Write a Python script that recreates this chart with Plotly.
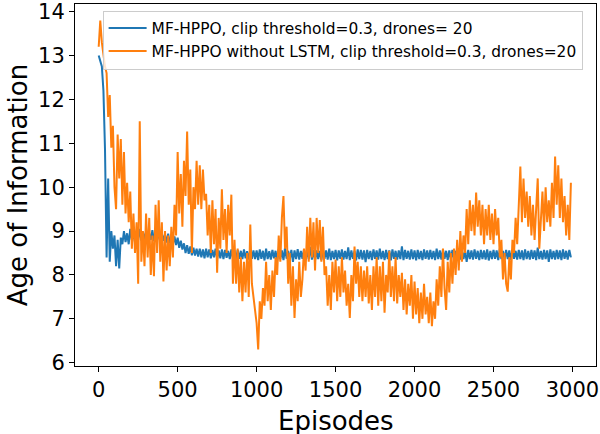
import plotly.graph_objects as go

# Episodes sampled every 10 episodes
episodes = list(range(0, 3000, 10))

# MF-HPPO (blue)
blue_aoi = [
    13.0, 12.85, 12.75, 12.2, 10.85, 8.4, 10.2, 8.3, 9.0, 8.6,
    8.9, 8.2, 8.8, 8.15, 8.85, 8.7, 9.0, 8.75, 8.95, 8.7,
    9.05, 8.8, 8.95, 8.75, 9.0, 8.8, 9.05, 8.78, 8.98, 8.8,
    9.0, 8.76, 8.95, 8.8, 9.02, 8.77, 8.96, 8.8, 8.97, 8.75,
    8.95, 8.78, 8.92, 8.74, 8.94, 8.72, 8.9, 8.7, 8.88, 8.68,
    8.85, 8.62, 8.78, 8.58, 8.72, 8.5, 8.68, 8.48, 8.65, 8.45,
    8.62, 8.44, 8.6, 8.42, 8.6, 8.4, 8.58, 8.38, 8.6, 8.4,
    8.58, 8.38, 8.57, 8.4, 8.6, 8.37, 8.56, 8.38, 8.58, 8.36,
    8.57, 8.39, 8.55, 8.36, 8.58, 8.38, 8.56, 8.35, 8.57, 8.37,
    8.55, 8.36, 8.58, 8.38, 8.54, 8.35, 8.57, 8.37, 8.56, 8.36,
    8.56, 8.34, 8.58, 8.37, 8.55, 8.33, 8.6, 8.36, 8.54, 8.35,
    8.57, 8.38, 8.55, 8.32, 8.58, 8.36, 8.56, 8.34, 8.62, 8.37,
    8.55, 8.35, 8.57, 8.3, 8.56, 8.36, 8.59, 8.35, 8.55, 8.37,
    8.58, 8.34, 8.56, 8.36, 8.64, 8.35, 8.57, 8.33, 8.56, 8.36,
    8.55, 8.34, 8.58, 8.37, 8.56, 8.35, 8.6, 8.34, 8.55, 8.36,
    8.57, 8.33, 8.56, 8.37, 8.58, 8.35, 8.55, 8.36, 8.63, 8.34,
    8.56, 8.37, 8.55, 8.33, 8.58, 8.36, 8.57, 8.35, 8.56, 8.29,
    8.57, 8.36, 8.55, 8.34, 8.58, 8.37, 8.56, 8.35, 8.6, 8.36,
    8.55, 8.34, 8.57, 8.36, 8.56, 8.33, 8.58, 8.37, 8.55, 8.35,
    8.56, 8.36, 8.65, 8.34, 8.57, 8.37, 8.55, 8.35, 8.58, 8.36,
    8.56, 8.33, 8.57, 8.36, 8.55, 8.34, 8.58, 8.37, 8.56, 8.35,
    8.57, 8.36, 8.55, 8.34, 8.6, 8.36, 8.56, 8.35, 8.58, 8.37,
    8.55, 8.34, 8.56, 8.36, 8.57, 8.33, 8.55, 8.37, 8.58, 8.35,
    8.56, 8.36, 8.55, 8.3, 8.57, 8.36, 8.56, 8.35, 8.58, 8.37,
    8.55, 8.34, 8.57, 8.36, 8.56, 8.35, 8.58, 8.33, 8.55, 8.36,
    8.57, 8.37, 8.56, 8.34, 8.6, 8.36, 8.55, 8.35, 8.57, 8.36,
    8.56, 8.34, 8.58, 8.37, 8.55, 8.35, 8.57, 8.36, 8.56, 8.34,
    8.58, 8.36, 8.55, 8.35, 8.57, 8.37, 8.56, 8.34, 8.62, 8.36,
    8.55, 8.35, 8.57, 8.36, 8.56, 8.3, 8.58, 8.36, 8.55, 8.35,
    8.57, 8.36, 8.56, 8.34, 8.58, 8.37, 8.55, 8.35, 8.57, 8.4,
]

# MF-HPPO without LSTM (orange)
orange_aoi = [
    13.2, 13.8, 13.3, 13.0, 12.75, 12.6, 11.6, 12.1, 10.9, 11.4,
    10.0, 9.5, 11.2, 10.2, 11.1, 9.6, 10.8, 9.4, 10.1, 9.2,
    9.9, 8.6, 9.4, 8.5, 9.2, 7.8, 11.5, 8.3, 9.0, 8.2,
    9.4, 8.4, 9.3, 8.0, 8.9, 7.97, 9.6, 8.5, 9.7, 8.3,
    9.2, 7.85, 9.0, 8.1, 8.9, 8.2, 9.1, 8.4, 9.6, 8.9,
    10.8, 9.4, 10.3, 9.1, 10.6, 9.8, 11.27, 9.6, 10.4, 8.5,
    10.0, 9.5, 10.6, 9.6, 10.5, 9.5, 10.4, 9.7, 9.85, 8.9,
    9.6, 8.5, 9.7, 8.7, 9.5, 8.05, 9.3, 8.6, 9.95, 8.8,
    9.5, 8.5, 9.6, 8.9, 9.83, 7.8, 8.8, 7.8, 8.6, 7.6,
    8.4, 7.4, 8.3, 7.6, 8.5, 7.5, 9.15, 7.8, 7.5, 7.2,
    6.9, 6.3, 7.4, 7.0, 7.7, 7.3, 8.3, 7.4, 8.0, 7.2,
    8.1, 7.5, 8.4, 8.0, 8.9, 8.3, 9.3, 9.8, 8.6, 9.1,
    7.8, 8.5, 7.3, 8.2, 7.02, 7.9, 7.4, 8.3, 7.5, 7.9,
    8.6, 8.1, 9.1, 8.3, 9.3, 8.4, 9.2, 8.1, 9.3, 8.5,
    9.25, 8.3, 9.1, 8.0, 8.2, 7.3, 8.0, 7.2, 8.3, 7.6,
    8.35, 7.4, 8.2, 7.5, 8.4, 7.6, 8.1, 7.3, 7.8, 7.02,
    8.0, 7.4, 8.65, 7.8, 8.3, 7.5, 8.2, 7.4, 8.1, 7.5,
    8.2, 7.35, 8.0, 7.2, 8.2, 7.5, 8.4, 7.3, 8.2, 7.4,
    8.3, 7.14, 8.0, 7.6, 8.55, 7.5, 8.2, 7.4, 8.4, 7.35,
    8.0, 7.5, 8.05, 7.2, 7.9, 7.1, 7.8, 7.3, 8.0, 7.0,
    7.85, 7.1, 7.7, 6.9, 7.6, 7.0, 7.8, 7.1, 7.5, 6.9,
    7.6, 6.83, 7.4, 7.0, 7.9, 7.3, 8.2, 7.5, 8.6, 7.7,
    7.2, 8.3, 7.6, 8.5, 7.8, 8.6, 8.0, 8.8, 8.1, 9.0,
    8.3, 8.9, 8.5, 9.5, 8.7, 9.7, 9.0, 9.6, 8.9, 9.88,
    9.1, 9.7, 8.9, 9.6, 8.7, 9.5, 8.9, 9.6, 8.8, 9.4,
    8.7, 9.5, 8.9, 9.3, 8.4, 8.8, 7.9, 8.5, 7.8, 7.62,
    8.4, 7.9, 8.8, 8.5, 9.3, 8.7, 9.5, 10.47, 9.2, 10.2,
    9.3, 9.9, 9.1, 9.8, 8.9, 9.6, 8.8, 9.5, 10.2, 8.6,
    9.4, 9.9, 9.0, 10.0, 9.2, 9.7, 9.1, 10.1, 9.3, 10.7,
    9.6, 10.5, 9.3, 10.2, 9.2, 9.8, 8.9, 9.6, 8.8, 10.1,
]

x_ticks = [0, 500, 1000, 1500, 2000, 2500, 3000]
y_ticks = [6, 7, 8, 9, 10, 11, 12, 13, 14]

series_names = [
    "MF-HPPO, clip threshold=0.3, drones= 20",
    "MF-HPPO without LSTM, clip threshold=0.3, drones=20",
]
x_title = "Episodes"
y_title = "Age of Information"

fig = go.Figure()
fig.add_trace(go.Scatter(x=episodes, y=blue_aoi, mode="lines", name=series_names[0],
                         line=dict(color="#1f77b4", width=2)))
fig.add_trace(go.Scatter(x=episodes, y=orange_aoi, mode="lines", name=series_names[1],
                         line=dict(color="#ff7f0e", width=2)))

font_family = "DejaVu Sans"
fig.update_layout(
    width=600, height=434,
    margin=dict(l=75, r=4, t=4, b=68),
    paper_bgcolor="white", plot_bgcolor="white",
    font=dict(family=font_family, color="black"),
    showlegend=True,
    legend=dict(x=0.053, y=0.982, xanchor="left", yanchor="top",
                bgcolor="rgba(255,255,255,0.8)", bordercolor="#cccccc", borderwidth=1,
                font=dict(size=15.4, family=font_family), tracegroupgap=0, itemwidth=38),
    annotations=[dict(text=x_title, xref="paper", yref="paper", x=0.5, y=-0.152,
                      xanchor="center", yanchor="middle", showarrow=False,
                      font=dict(size=26, family=font_family, color="black"))],
)
fig.update_xaxes(
    range=[-150, 3149], tickvals=x_ticks, ticks="outside", ticklen=5, tickcolor="black",
    tickfont=dict(size=21), showline=True, linecolor="black", linewidth=1, mirror=True,
    showgrid=False, zeroline=False, automargin=False,
)
fig.update_yaxes(
    range=[5.925, 14.175], tickvals=y_ticks, ticks="outside", ticklen=5, tickcolor="black",
    tickfont=dict(size=21), showline=True, linecolor="black", linewidth=1, mirror=True,
    showgrid=False, zeroline=False, automargin=False,
    title=dict(text=y_title, font=dict(size=26), standoff=2),
)

fig.write_html("out.html", config={"displayModeBar": False},
               post_script="document.body.style.margin='0px';")
